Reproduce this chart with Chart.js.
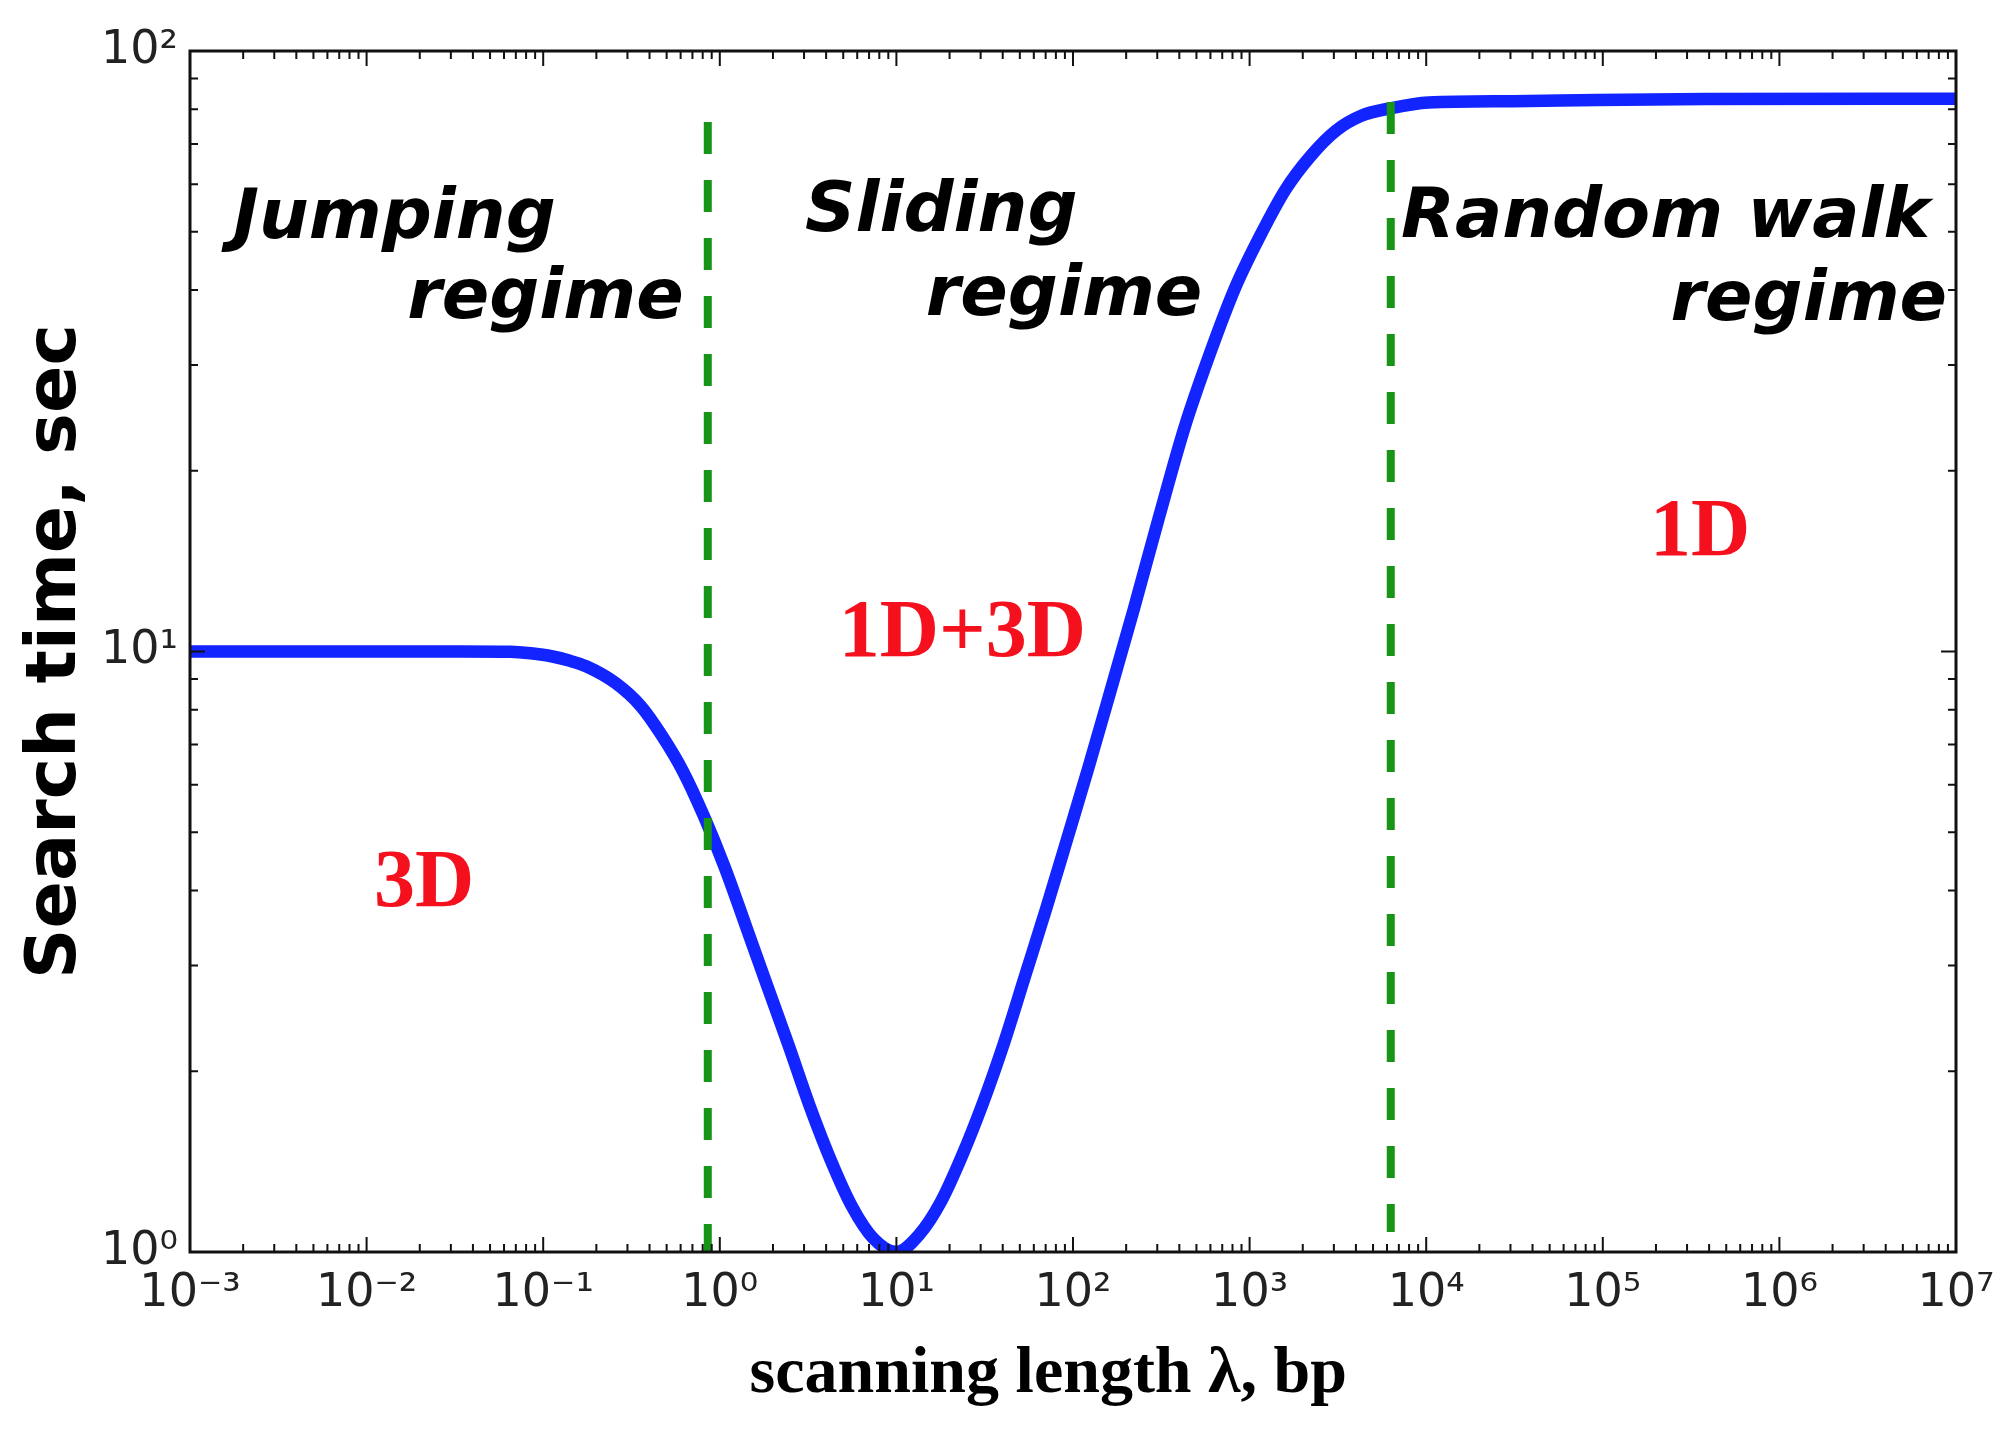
<!DOCTYPE html>
<html lang="en">
<head>
<meta charset="UTF-8">
<title>Search time vs scanning length</title>
<script src="https://cdn.jsdelivr.net/npm/chart.js"></script>
<style>
    body {
        margin: 0;
        background-color: #fff;
    }
    #wrap {
        width: 2010px;
        height: 1430px;
    }
</style>
</head>
<body>
<div id="wrap"><canvas id="chart" width="2010" height="1430"></canvas></div>
<script>
// values
var lambdaBp = [0.001, 0.01, 0.035, 0.065, 0.085, 0.113, 0.14, 0.175, 0.257, 0.357, 0.47, 0.62, 0.81, 1.07, 1.41, 1.86,
    2.45, 3.23, 4.26, 5.61, 7.39, 10, 13.5, 17.8, 23.5, 30.9, 40.7, 53.7, 70.7, 93, 122.7, 160, 221.6, 308, 428, 595,
    827, 1150, 1598, 2221, 3087, 4290, 6300, 10320, 30930, 92700, 386000, 1e7];
var searchSec = [10.0, 10.0, 10.0, 9.99, 9.93, 9.81, 9.66, 9.45, 8.86, 8.11, 7.24, 6.31, 5.33, 4.36, 3.48, 2.77,
    2.21, 1.75, 1.42, 1.19, 1.054, 1.0, 1.07, 1.21, 1.445, 1.77, 2.23, 2.89, 3.74, 4.89, 6.43, 8.43, 11.8, 16.8, 23.6, 31.3,
    40.3, 49.3, 58.8, 66.9, 73.7, 78.0, 80.3, 82.1, 82.5, 82.9, 83.2, 83.3];

// regime boundaries (green dashed lines)
var boundaryX = [0.855, 6300];
var boundaryTop = [76.2, 82.2];
var boundaryBottom = [1.0, 1.08];

var xTicks = [1e-3, 1e-2, 1e-1, 1e0, 1e1, 1e2, 1e3, 1e4, 1e5, 1e6, 1e7];
var yTicks = [1, 10, 100];

var regimeText = [
    { text: 'Jumping', x: 0.00175, y: 48.8, align: 'left' },
    { text: 'regime', x: 0.625, y: 35.9, align: 'right' },
    { text: 'Sliding', x: 3.04, y: 50.1, align: 'left' },
    { text: 'regime', x: 540, y: 36.3, align: 'right' },
    { text: 'Random walk', x: 7200, y: 49.0, align: 'left' },
    { text: 'regime', x: 8.9e6, y: 35.6, align: 'right' }
];
var dimText = [
    { text: '3D', x: 0.011, y: 3.77 },
    { text: '1D+3D', x: 4.72, y: 9.83 },
    { text: '1D', x: 1.85e5, y: 14.5 }
];

var SUP = { '-': '\u207B', '0': '\u2070', '1': '\u00B9', '2': '\u00B2', '3': '\u00B3', '4': '\u2074',
    '5': '\u2075', '6': '\u2076', '7': '\u2077', '8': '\u2078', '9': '\u2079' };
function powLabel(v) {
    var e = String(Math.round(Math.log10(v)));
    return '10' + e.split('').map(function (c) { return SUP[c]; }).join('');
}

var curve = lambdaBp.map(function (x, i) { return { x: x, y: searchSec[i] }; });
var boundarySets = boundaryX.map(function (x, i) {
    return {
        data: [{ x: x, y: boundaryTop[i] }, { x: x, y: boundaryBottom[i] }],
        borderColor: '#169516',
        borderWidth: 8,
        borderDash: [32, 26],
        pointRadius: 0,
        order: 0
    };
});

// inward ticks on all four sides, frame, and text labels
var decorations = {
    id: 'decorations',
    afterDraw: function (chart) {
        var ctx = chart.ctx, a = chart.chartArea;
        var xs = chart.scales.x, ys = chart.scales.y;
        ctx.save();
        ctx.strokeStyle = '#111';
        ctx.lineWidth = 2;
        var d, k, p, len;
        for (d = -3; d <= 7; d++) {
            for (k = 1; k <= 9; k++) {
                if (d === 7 && k > 1) break;
                p = xs.getPixelForValue(k * Math.pow(10, d));
                len = k === 1 ? 15 : 8;
                ctx.beginPath();
                ctx.moveTo(p, a.bottom); ctx.lineTo(p, a.bottom - len);
                ctx.moveTo(p, a.top); ctx.lineTo(p, a.top + len);
                ctx.stroke();
            }
        }
        for (d = 0; d <= 2; d++) {
            for (k = 1; k <= 9; k++) {
                if (d === 2 && k > 1) break;
                p = ys.getPixelForValue(k * Math.pow(10, d));
                len = k === 1 ? 15 : 8;
                ctx.beginPath();
                ctx.moveTo(a.left, p); ctx.lineTo(a.left + len, p);
                ctx.moveTo(a.right, p); ctx.lineTo(a.right - len, p);
                ctx.stroke();
            }
        }
        ctx.lineWidth = 3;
        ctx.strokeRect(a.left, a.top, a.right - a.left, a.bottom - a.top);

        ctx.textBaseline = 'alphabetic';
        ctx.fillStyle = '#000';
        ctx.font = 'italic bold 70px "DejaVu Sans"';
        regimeText.forEach(function (t) {
            ctx.textAlign = t.align;
            ctx.fillText(t.text, xs.getPixelForValue(t.x), ys.getPixelForValue(t.y));
        });
        ctx.fillStyle = '#f5101e';
        ctx.font = 'bold 82px "Liberation Serif"';
        ctx.textAlign = 'left';
        dimText.forEach(function (t) {
            ctx.fillText(t.text, xs.getPixelForValue(t.x), ys.getPixelForValue(t.y));
        });
        ctx.restore();
    }
};

new Chart(document.getElementById('chart'), {
    type: 'line',
    data: {
        datasets: boundarySets.concat([{
            data: curve,
            borderColor: '#1224ff',
            borderWidth: 12.5,
            pointRadius: 0,
            cubicInterpolationMode: 'monotone',
            order: 1
        }])
    },
    options: {
        responsive: false,
        devicePixelRatio: 1,
        animation: false,
        layout: { padding: { left: 0, top: 51, right: 54, bottom: 0 } },
        plugins: { legend: { display: false }, tooltip: { enabled: false } },
        scales: {
            x: {
                type: 'logarithmic',
                min: 1e-3,
                max: 1e7,
                grid: { display: false, drawTicks: false },
                border: { display: false },
                afterBuildTicks: function (s) { s.ticks = xTicks.map(function (v) { return { value: v }; }); },
                afterFit: function (s) { s.height = 178; },
                ticks: {
                    autoSkip: false,
                    maxRotation: 0,
                    padding: 14,
                    color: '#222',
                    font: { family: '"DejaVu Sans"', size: 46 },
                    callback: function (v) { return powLabel(v); }
                },
                title: {
                    display: true,
                    text: 'scanning length \u03BB, bp\u00A0\u00A0\u00A0',
                    color: '#000',
                    font: { family: '"Liberation Serif"', size: 66, weight: 'bold', lineHeight: 1.2 },
                    padding: { top: 0, bottom: 15 }
                }
            },
            y: {
                type: 'logarithmic',
                min: 1,
                max: 100,
                grid: { display: false, drawTicks: false },
                border: { display: false },
                afterBuildTicks: function (s) { s.ticks = yTicks.map(function (v) { return { value: v }; }); },
                afterFit: function (s) { s.width = 190; },
                ticks: {
                    autoSkip: false,
                    padding: 12,
                    color: '#222',
                    font: { family: '"DejaVu Sans"', size: 46 },
                    callback: function (v) { return powLabel(v); }
                },
                title: {
                    display: true,
                    text: 'Search time, sec',
                    color: '#000',
                    font: { family: '"DejaVu Sans"', size: 70, weight: 'bold', lineHeight: 1.0 },
                    padding: { top: 22, bottom: 0 }
                }
            }
        }
    },
    plugins: [decorations]
});
</script>
</body>
</html>
